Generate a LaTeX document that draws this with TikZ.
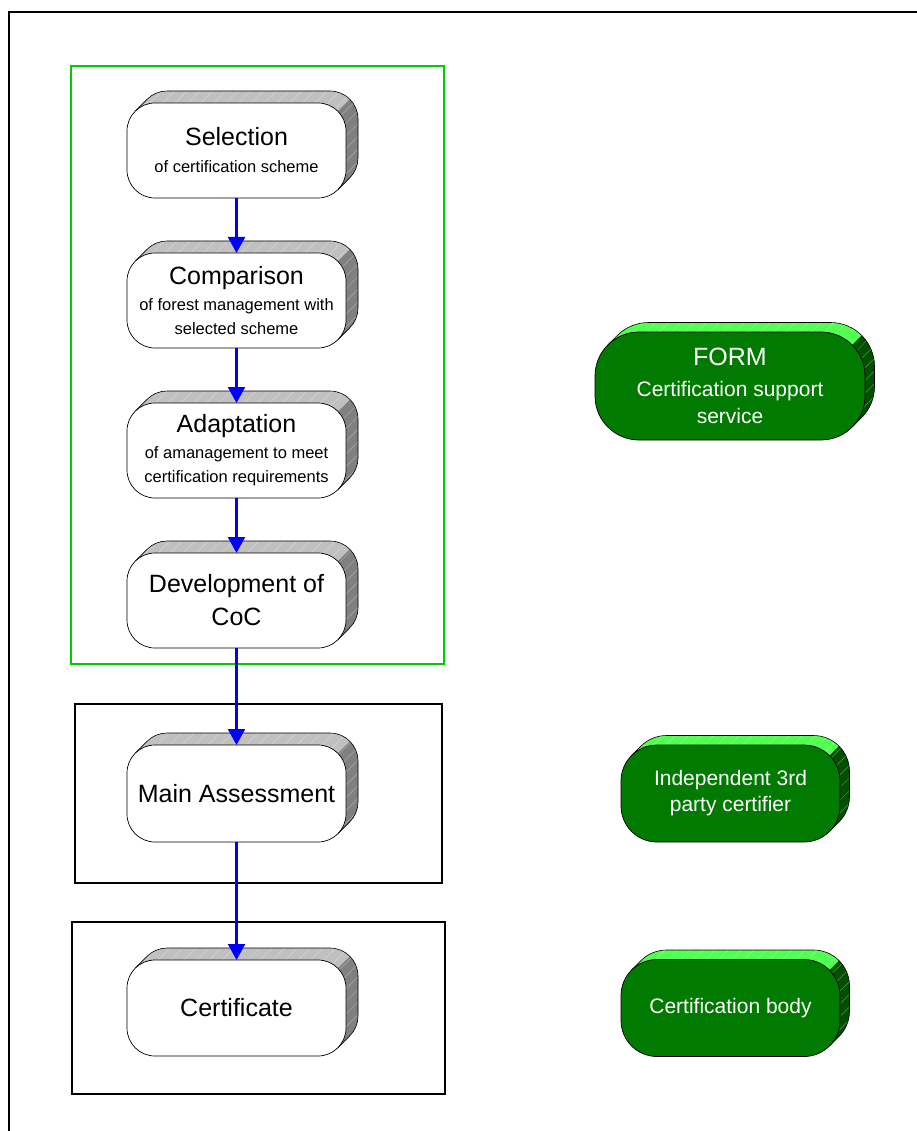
\documentclass[tikz,border=0pt]{standalone}
\usepackage{fontspec}
\setmainfont{Liberation Sans}
\usetikzlibrary{arrows.meta,calc,patterns.meta}

\definecolor{Wtop}{RGB}{192,192,192}
\definecolor{Wside}{RGB}{128,128,128}
\definecolor{Wfill}{RGB}{255,255,255}
\definecolor{Gtop}{RGB}{80,255,80}
\definecolor{Gside}{RGB}{0,80,0}
\definecolor{Gfill}{RGB}{0,122,0}
\definecolor{framegreen}{RGB}{0,204,0}
\definecolor{arrowblue}{RGB}{0,0,255}

\newcommand\ttl{\fontsize{25}{24}\selectfont}
\newcommand\sub{\fontsize{16.5}{24}\selectfont}
\newcommand\gsub{\fontsize{21}{24}\selectfont}
\newcommand\gind{\fontsize{21}{24}\selectfont}

\tikzset{
  Wfront/.style={draw=black, line width=0.7pt, fill=Wfill, text=black, inner sep=0pt, outer sep=0pt, align=center, font=\sub},
  Gfront/.style={draw=black, line width=0.7pt, fill=Gfill, text=white, inner sep=0pt, outer sep=0pt, align=center, font=\sub},
  sweepline/.style={draw=black, line width=0.6pt},
  hatch/.style={pattern={Lines[angle=45,distance=9pt,line width=0.5pt]}, pattern color=white, opacity=0.35},
  flow/.style={draw=arrowblue, line width=2.3pt, -{Triangle[length=16pt,width=17pt]}},
  groupbox/.style={draw=black, line width=2.4pt},
  greenbox/.style={draw=framegreen, line width=2pt},
}

% #1 name, #2 cx, #3 cy (pixels, downwards), #4 width, #5 height, #6 radius, #7 depth, #8 palette (W/G), #9 text
\newcommand\extbox[9]{%
  \pgfmathsetmacro\eL{#2-#4/2}%
  \pgfmathsetmacro\eR{#2+#4/2}%
  \pgfmathsetmacro\eT{-#3+#5/2}%
  \pgfmathsetmacro\eB{-#3-#5/2}%
  \pgfmathsetmacro\ec{#6*(1-cos(45))}%
  \begin{scope}
    \clip (\eL+\ec,\eT-\ec) -- ++(#7,#7) arc[start angle=135,end angle=90,radius=#6pt]
      -- (\eR+#7-#6,\eT+#7) arc[start angle=90,end angle=0,radius=#6pt]
      -- (\eR+#7,\eB+#7+#6) arc[start angle=0,end angle=-45,radius=#6pt]
      -- (\eR-\ec,\eB+\ec) -- cycle;
    \fill[#8top] (\eL-20,\eB-20) rectangle (\eR+40,\eT+40);
    \fill[#8side] (\eR-\ec-200,\eT-\ec-200) -- (\eR-\ec+200,\eT-\ec+200)
      -- (\eR-\ec+400,\eT-\ec) -- (\eR-\ec,\eT-\ec-400) -- cycle;
    \fill[hatch] (\eL-20,\eB-20) rectangle (\eR+40,\eT+40);
  \end{scope}
  \draw[sweepline] (\eL+\ec,\eT-\ec) -- ++(#7,#7) arc[start angle=135,end angle=90,radius=#6pt]
      -- (\eR+#7-#6,\eT+#7) arc[start angle=90,end angle=0,radius=#6pt]
      -- (\eR+#7,\eB+#7+#6) arc[start angle=0,end angle=-45,radius=#6pt]
      -- (\eR-\ec,\eB+\ec);
  \node[#8front, minimum width=#4pt, minimum height=#5pt, rounded corners=#6pt] (#1) at (#2,-#3) {#9};
}

\begin{document}
\begin{tikzpicture}[x=1pt,y=1pt]
\useasboundingbox (0,0) rectangle (916,-1131);
\fill[white] (0,0) rectangle (916,-1131);

% outer frame
\draw[line width=2pt, draw=black] (9,-1140) -- (9,-12) -- (925,-12);

% group boxes
\draw[greenbox] (71,-66) rectangle (444,-664);
\draw[groupbox] (75,-704) rectangle (442,-883);
\draw[groupbox] (72,-922) rectangle (445,-1094);

% white process boxes
\extbox{sel}{236.5}{150.5}{219}{95}{28}{12}{W}{\ttl Selection\\[3pt]\sub of certification scheme}
\extbox{cmp}{236.5}{300.5}{219}{95}{28}{12}{W}{\ttl Comparison\\[2pt]\sub of forest management with\\\sub selected scheme}
\extbox{adp}{236.5}{450.5}{219}{95}{28}{12}{W}{\ttl Adaptation\\[2pt]\sub of amanagement to meet\\\sub certification requirements}
\extbox{dev}{236.5}{600.5}{219}{95}{28}{12}{W}{\ttl Development of\\[9pt]\ttl CoC}
\extbox{main}{236.5}{793.5}{219}{97}{28}{12}{W}{\ttl Main Assessment}
\extbox{cert}{236.5}{1008}{219}{96}{28}{12}{W}{\ttl Certificate}

% green actor boxes
\extbox{form}{730}{386}{270}{108}{44}{9.5}{G}{\ttl FORM\\[7pt]\gsub Certification support\\[3pt]\gsub service}
\extbox{indep}{730.5}{793.5}{219}{97}{36}{9.5}{G}{\gind Independent 3rd\\[2pt]\gind party certifier}
\extbox{body}{730.5}{1008}{219}{97}{36}{9.5}{G}{\gsub Certification body}

% flow arrows
\draw[flow] (sel.south) -- (cmp.north);
\draw[flow] (cmp.south) -- (adp.north);
\draw[flow] (adp.south) -- (dev.north);
\draw[flow] (dev.south) -- (main.north);
\draw[flow] (main.south) -- (cert.north);
\end{tikzpicture}
\end{document}
